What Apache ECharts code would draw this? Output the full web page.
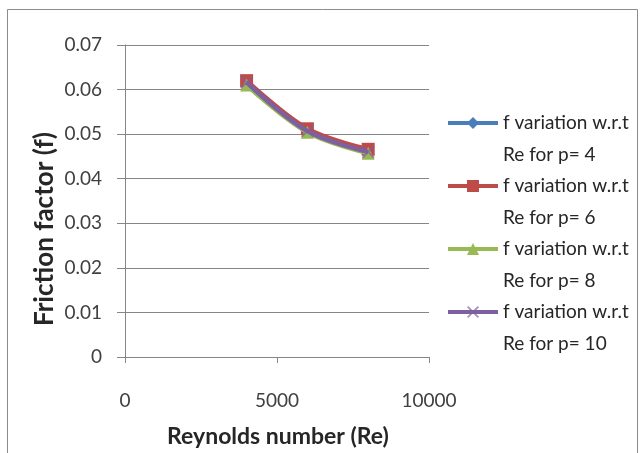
<!DOCTYPE html>
<html><head><meta charset="utf-8">
<script src="https://cdn.jsdelivr.net/npm/echarts@6/dist/echarts.min.js"></script>
<style>html,body{margin:0;padding:0;background:#fff}#c{width:642px;height:453px}</style>
</head><body><div id="c"></div>
<script>
const reynolds = [4000, 6000, 8000];
const fP4 = [0.0615, 0.0508, 0.0461];
const fP6 = [0.0620, 0.0512, 0.0466];
const fP8 = [0.0610, 0.0504, 0.0457];
const fP10 = [0.0616, 0.0507, 0.0460];
const seriesNames = ['f variation w.r.t\nRe for p= 4','f variation w.r.t\nRe for p= 6','f variation w.r.t\nRe for p= 8','f variation w.r.t\nRe for p= 10'];
const seriesValues = [fP4, fP6, fP8, fP10];
const yTicks = [0, 0.01, 0.02, 0.03, 0.04, 0.05, 0.06, 0.07];
const xTicks = [0, 5000, 10000];

const colors = ['#4A7EBB', '#BE4B48', '#98B954', '#7D60A0'];
const symbols = ['diamond', 'rect', 'triangle', 'path://M0,1L1,0L5,4L9,0L10,1L6,5L10,9L9,10L5,6L1,10L0,9L4,5Z'];
const symSizes = [12, 13, 13, 13];
const FONT = 'Lato, "Open Sans", sans-serif';
const LH = 32;

const chart = echarts.init(document.getElementById('c'), null, {renderer: 'canvas'});
const series = seriesNames.map((n, i) => ({
  name: n, type: 'line', smooth: 0.35,
  data: reynolds.map((x, j) => [x, seriesValues[i][j]]),
  symbol: symbols[i], symbolSize: symSizes[i], showSymbol: true,
  lineStyle: {color: colors[i], width: 4.5},
  itemStyle: {color: colors[i], opacity: i === 3 ? 0.7 : 1},
  z: 2 + i
}));
const iconY = [123, 186, 249, 312];
const legends = seriesNames.map((n, i) => ({
  data: [n], orient: 'vertical', left: 446, top: iconY[i] - 1.5 * LH,
  itemWidth: 50, itemHeight: 15, itemGap: 0, padding: 0,
  lineStyle: {width: 4},
  formatter: name => ' \n' + name,
  textStyle: {fontFamily: FONT, fontSize: 19, color: '#262626', lineHeight: LH}
}));
chart.setOption({
  animation: false,
  color: colors,
  grid: {left: 125, right: 213, top: 45, bottom: 96},
  xAxis: {
    type: 'value', min: xTicks[0], max: xTicks[xTicks.length - 1], interval: 5000,
    axisLine: {show: true, lineStyle: {color: '#868686', width: 1}},
    axisTick: {show: true, length: 6, lineStyle: {color: '#868686'}},
    splitLine: {show: false},
    axisLabel: {margin: 34, fontFamily: FONT, fontSize: 19, color: '#404040', formatter: v => String(v)}
  },
  yAxis: {
    type: 'value', min: yTicks[0], max: yTicks[yTicks.length - 1], interval: 0.01,
    axisLine: {show: true, lineStyle: {color: '#868686', width: 1}},
    axisTick: {show: true, length: 8, lineStyle: {color: '#868686'}},
    splitLine: {show: true, lineStyle: {color: '#868686', width: 1}},
    axisLabel: {margin: 23, fontFamily: FONT, fontSize: 19, color: '#404040',
      formatter: v => String(+v.toFixed(2))}
  },
  legend: legends,
  graphic: [
    {type: 'rect', shape: {x: 7.5, y: 9.5, width: 630, height: 460}, style: {fill: 'none', stroke: '#8c8c8c', lineWidth: 1}, z: -1},
    {type: 'text', x: 45, y: 229, rotation: Math.PI / 2,
      style: {text: 'Friction factor (f)', fontFamily: FONT, fontWeight: 'bold', fontSize: 26, fill: '#262626', align: 'center', verticalAlign: 'middle'}},
    {type: 'text', x: 278, y: 437,
      style: {text: 'Reynolds number (Re)', fontFamily: FONT, fontWeight: 'bold', fontSize: 23, fill: '#262626', align: 'center', verticalAlign: 'middle'}}
  ],
  series: series
});
</script></body></html>
